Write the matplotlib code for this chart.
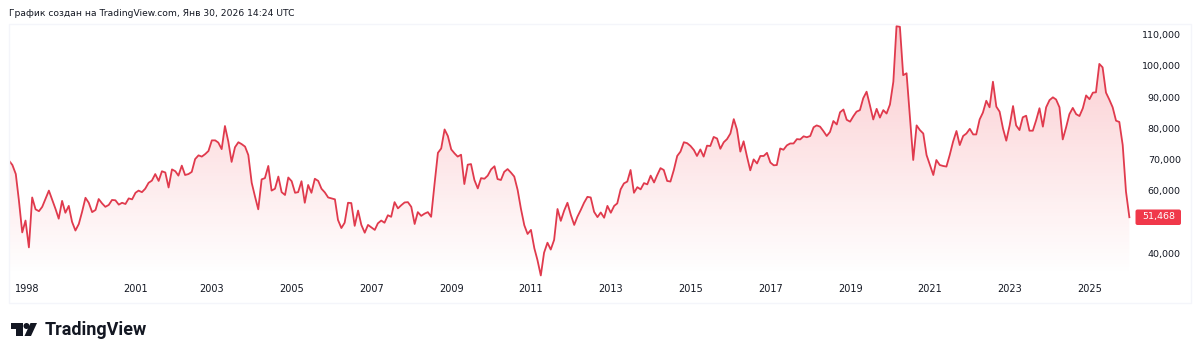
import matplotlib
matplotlib.use('Agg')
import matplotlib.pyplot as plt
import matplotlib.dates as mdates
import numpy as np
import pandas as pd
from matplotlib.patches import Polygon, Circle, Rectangle, FancyBboxPatch
from matplotlib.transforms import Affine2D

# monthly values (Dec 1997 - Jan 2026)
vals_1997_2007 = [
    69600, 68200, 65300, 57000, 46600, 50400, 41800, 57800, 54000, 53400, 54800, 57400,
    60000, 57000, 54000, 51000, 56700, 52900, 55100, 50000, 47200, 49300, 53200, 57700,
    56100, 53100, 53800, 57300, 55900, 54800, 55400, 57000, 56900, 55500, 56100, 55700,
    57500, 57200, 59300, 60000, 59500, 60600, 62500, 63200, 65300, 63100, 66200, 65800,
    61000, 66800, 66200, 64800, 68000, 65000, 65300, 66000, 70100, 71300, 70900, 71700,
    72700, 76100, 76100, 75400, 73300, 80700, 75700, 69200, 73900, 75500, 74900, 74100,
    71400, 62500, 58000, 54000, 63600, 64000, 67900, 60000, 60600, 64500, 59500, 58600,
    64200, 63000, 59300, 59500, 63000, 56100, 61800, 59300, 63800, 63100, 60600, 59400,
    57800, 57500, 57200, 50600, 48000, 49700, 56100, 56000, 48700, 53600, 49000, 46500,
    49000, 48200, 47400, 49500, 50400, 49700, 52100, 51600, 56300, 54300,
]
vals_2007_2017 = [
    55300, 56200, 56300, 54800, 49300, 53100, 51900, 52600, 53100, 51600, 62100, 72100,
    73500, 79600, 77500, 73200, 71900, 70900, 71500, 62100, 68300, 68500, 63400, 60700,
    64000, 63800, 64800, 66800, 67800, 63700, 63400, 66000, 66900, 65800, 64500, 60200,
    54200, 48900, 46100, 47400, 41500, 37800, 32800, 40100, 43300, 41100, 44200, 54100,
    50300, 53600, 56100, 52200, 49000, 51600, 53800, 56100, 58000, 57800, 53200, 51500,
    53000, 51300, 55100, 52900, 55100, 55900, 60400, 62300, 62900, 66600, 59300, 61100,
    60400, 62400, 62000, 64800, 62600, 64900, 67200, 66600, 63100, 62900, 66600, 71100,
    72500, 75500, 75200, 74300, 73000, 71100, 73200, 70900, 74400, 74300, 77200, 76700,
    73400, 75500, 76500, 78300, 82900, 79600, 72500, 75800, 70900, 66500, 70000, 68700,
    71100, 71100, 72100, 69000, 68100, 68200, 73500, 73100, 74500, 75100, 75100, 76500,
]
vals_2017_2026 = [
    76400, 77400, 77100, 77500, 80300, 80900, 80500, 79100, 77500, 78800, 82300, 81200,
    85100, 86000, 82700, 82100, 83900, 85300, 85800, 89600, 91700, 87400, 82800, 86200,
    83400, 85800, 84700, 87600, 94900, 112700, 112500, 97000, 97600, 83700, 69800, 80900,
    79400, 78300, 71400, 68200, 65000, 69800, 68200, 67900, 67700, 71400, 75700, 79100,
    74600, 77500, 78300, 79800, 78000, 78000, 82800, 85000, 88800, 86700, 94900, 86900,
    85300, 79900, 76000, 80900, 87100, 80900, 79400, 83500, 84000, 79200, 79200, 82600,
    86400, 80500, 86700, 89000, 89900, 89200, 86700, 76400, 80300, 84500, 86500, 84500,
    83900, 86400, 90500, 89300, 91400, 91500, 100600, 99500, 91400, 89200, 86700, 82400,
    82000, 74600, 59700, 51468,
]
values = np.array(vals_1997_2007 + vals_2007_2017 + vals_2017_2026, dtype=float)
dates = pd.date_range(end='2026-01-01', periods=len(values), freq='MS')

tick_years = ['1998', '2001', '2003', '2005', '2007', '2009', '2011', '2013',
              '2015', '2017', '2019', '2021', '2023', '2025']
# the 1998 and 2001 labels sit a little right of their year start, like in the source
tick_dates = pd.to_datetime(['1998-05-15', '2001-02-01', '2003-01-01', '2005-01-01',
                             '2007-01-01', '2009-01-01', '2011-01-01', '2013-01-01',
                             '2015-01-01', '2017-01-01', '2019-01-01', '2021-01-01',
                             '2023-01-01', '2025-01-01'])
y_ticks = [40000, 60000, 70000, 80000, 90000, 100000, 110000]

W, H = 1200, 356
RED = '#e03a4d'
plt.rcParams['font.family'] = ['DejaVu Sans']

fig = plt.figure(figsize=(W / 100, H / 100), dpi=100, facecolor='white')

# helper: picture pixels (y down) to figure
px = Affine2D().scale(1, -1).translate(0, H)

fig.add_artist(Rectangle((8.5, 23.5), 1182, 279.5, fill=False, ec='#f4f5fa', lw=1,
                         transform=px))

left, right, top, bottom = 9, 1135, 24, 303
ax = fig.add_axes([left / W, 1 - bottom / H, (right - left) / W, (bottom - top) / H])
ax.set_facecolor('none')
for s in ax.spines.values():
    s.set_visible(False)

# Jan 2025 at pixel 1089.5, 3.322 px per month
x_num = mdates.date2num(dates)
per_px = 365 / (12 * 3.322)
ref_x = mdates.date2num(pd.Timestamp('2025-01-01'))
x0 = ref_x - (1089.5 - left) * per_px
x1 = ref_x + (right - 1089.5) * per_px
ymax = 40000 + (253 - top) / 31.2 * 10000
ymin = 40000 - (bottom - 253) / 31.2 * 10000

# gradient under the line
grad = np.zeros((256, 1, 4))
grad[..., 0], grad[..., 1], grad[..., 2] = 0.949, 0.212, 0.271
grad[:, 0, 3] = np.linspace(0.27, 0, 256)
im = ax.imshow(grad, extent=[x0, x1, 33000, ymax], aspect='auto', origin='upper', zorder=1)
poly = Polygon(np.column_stack([np.r_[x_num[0], x_num, x_num[-1]],
                                np.r_[ymin, values, ymin]]),
               closed=True, transform=ax.transData, fc='none', ec='none')
ax.add_patch(poly)
im.set_clip_path(poly)

ax.plot(x_num, values, color=RED, lw=1.3, solid_joinstyle='round', zorder=3)

ax.set_xlim(x0, x1)
ax.set_ylim(ymin, ymax)
ax.set_xticks(mdates.date2num(tick_dates))
ax.set_xticklabels(tick_years)
ax.yaxis.tick_right()
ax.set_yticks(y_ticks)
ax.set_yticklabels([f'{v:,}' for v in y_ticks], ha='right')
ax.tick_params(axis='x', length=0, pad=-14, labelsize=7, labelcolor='#131722')
ax.tick_params(axis='y', length=0, pad=33, labelsize=6.8, labelcolor='#131722')

# last price tag
fig.add_artist(FancyBboxPatch((1137, 211), 42.5, 12.5, boxstyle='round,pad=1.5,rounding_size=2',
                              fc='#f0384a', ec='none', transform=px))
fig.text(1159 / W, 1 - 217 / H, f'{int(values[-1]):,}', ha='center', va='center',
         color='white', fontsize=6.8)

fig.text(9 / W, 1 - 13.5 / H, 'График создан на TradingView.com, Янв 30, 2026 14:24 UTC',
         fontsize=6.6, color='#131722', va='center', ha='left')

# logo
logo = '#131722'
fig.add_artist(Polygon([(11, 323), (22.5, 323), (22.5, 336), (16, 336), (16, 329), (11, 329)],
                       closed=True, fc=logo, ec='none', transform=px))
fig.add_artist(Circle((26.5, 326), 3, fc=logo, ec='none', transform=px))
fig.add_artist(Polygon([(30.5, 323), (37, 323), (31, 336), (24.5, 336)],
                       closed=True, fc=logo, ec='none', transform=px))
fig.text(44.5 / W, 1 - 330 / H, 'TradingView', fontsize=13, color=logo, va='center', ha='left',
         family='Roboto', weight='bold')

fig.savefig('out.png', dpi=100)
